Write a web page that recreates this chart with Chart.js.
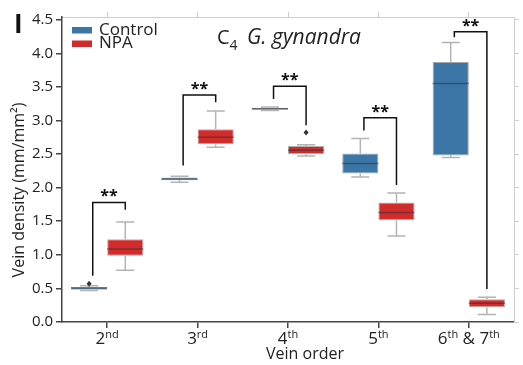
<!DOCTYPE html>
<html>
<head>
<meta charset="utf-8">
<script src="https://cdn.jsdelivr.net/npm/chart.js@4.4.0/dist/chart.umd.min.js"></script>
<style>
  html, body { margin: 0; padding: 0; background: #fff; }
</style>
</head>
<body>
<canvas id="veinChart" width="523" height="365"></canvas>
<script>
// box plot values (mm/mm2)
var veinOrders = ['2nd', '3rd', '4th', '5th', '6th & 7th'];

var controlMin = [0.47, 2.08, 3.15, 2.16, 2.45];
var controlQ1  = [0.48, 2.11, 3.16, 2.21, 2.48];
var controlMed = [0.505, 2.13, 3.175, 2.36, 3.55];
var controlQ3  = [0.52, 2.15, 3.19, 2.51, 3.87];
var controlMax = [0.54, 2.17, 3.20, 2.73, 4.16];
var controlOut = [[0.57], [], [], [], []];

var npaMin = [0.77, 2.60, 2.47, 1.28, 0.11];
var npaQ1  = [0.985, 2.645, 2.50, 1.515, 0.22];
var npaMed = [1.085, 2.75, 2.555, 1.63, 0.28];
var npaQ3  = [1.23, 2.87, 2.62, 1.78, 0.34];
var npaMax = [1.49, 3.14, 2.64, 1.92, 0.37];
var npaOut = [[], [], [2.82], [], []];

// significance brackets: top of bracket, bottom of left leg, bottom of right leg
var sigTop   = [1.78, 3.38, 3.51, 3.04, 4.32];
var sigLeft  = [0.69, 2.33, 3.32, 2.85, 4.24];
var sigRight = [1.67, 3.27, 2.93, 2.04, 0.49];
var sigText  = ['**', '**', '**', '**', '**'];

var yTicks = [0, 0.5, 1, 1.5, 2, 2.5, 3, 3.5, 4, 4.5];

var FONT = '"Open Sans", "DejaVu Sans", sans-serif';
var boxStats = [
  { min: controlMin, med: controlMed, max: controlMax, out: controlOut },
  { min: npaMin, med: npaMed, max: npaMax, out: npaOut }
];

var overlay = {
  id: 'overlay',
  afterDatasetsDraw: function(chart) {
    var ctx = chart.ctx;
    var y = chart.scales.y;
    ctx.save();
    boxStats.forEach(function(s, di) {
      var meta = chart.getDatasetMeta(di);
      meta.data.forEach(function(bar, i) {
        var cx = bar.x, half = bar.width / 2;
        var raw = chart.data.datasets[di].data[i];
        ctx.strokeStyle = '#b4b4b4';
        ctx.lineWidth = 1.5;
        ctx.beginPath();
        ctx.moveTo(cx, y.getPixelForValue(raw[1]));
        ctx.lineTo(cx, y.getPixelForValue(s.max[i]));
        ctx.moveTo(cx - half / 2, y.getPixelForValue(s.max[i]));
        ctx.lineTo(cx + half / 2, y.getPixelForValue(s.max[i]));
        ctx.moveTo(cx, y.getPixelForValue(raw[0]));
        ctx.lineTo(cx, y.getPixelForValue(s.min[i]));
        ctx.moveTo(cx - half / 2, y.getPixelForValue(s.min[i]));
        ctx.lineTo(cx + half / 2, y.getPixelForValue(s.min[i]));
        ctx.stroke();
        // median
        ctx.strokeStyle = 'rgba(50,50,60,0.55)';
        ctx.lineWidth = 1.5;
        ctx.beginPath();
        ctx.moveTo(cx - half, y.getPixelForValue(s.med[i]));
        ctx.lineTo(cx + half, y.getPixelForValue(s.med[i]));
        ctx.stroke();
        // outliers
        ctx.fillStyle = '#333';
        s.out[i].forEach(function(v) {
          var py = y.getPixelForValue(v);
          ctx.beginPath();
          ctx.moveTo(cx, py - 3);
          ctx.lineTo(cx + 2.5, py);
          ctx.lineTo(cx, py + 3);
          ctx.lineTo(cx - 2.5, py);
          ctx.closePath();
          ctx.fill();
        });
      });
    });
    ctx.restore();
  },
  afterDraw: function(chart) {
    var ctx = chart.ctx;
    var x = chart.scales.x, y = chart.scales.y;
    ctx.save();

    // brackets
    ctx.strokeStyle = '#111';
    ctx.lineWidth = 1.5;
    ctx.fillStyle = '#111';
    ctx.font = 'bold 16px ' + FONT;
    ctx.textAlign = 'center';
    ctx.textBaseline = 'alphabetic';
    veinOrders.forEach(function(c, i) {
      var xl = x.getPixelForValue(i - 0.16), xr = x.getPixelForValue(i + 0.2);
      var yt = y.getPixelForValue(sigTop[i]);
      ctx.beginPath();
      ctx.moveTo(xl, y.getPixelForValue(sigLeft[i]));
      ctx.lineTo(xl, yt);
      ctx.lineTo(xr, yt);
      ctx.lineTo(xr, y.getPixelForValue(sigRight[i]));
      ctx.stroke();
      ctx.fillText(sigText[i], (xl + xr) / 2, yt - 1);
    });

    // x tick labels with superscripts
    ctx.fillStyle = '#222';
    ctx.textAlign = 'left';
    veinOrders.forEach(function(lab, i) {
      var parts = lab.split(/(st|nd|rd|th)/).filter(Boolean);
      var widths = parts.map(function(p) {
        ctx.font = (/^(st|nd|rd|th)$/.test(p) ? '11px ' : '17px ') + FONT;
        return ctx.measureText(p).width;
      });
      var total = widths.reduce(function(a, b) { return a + b; }, 0);
      var px = x.getPixelForValue(i) - total / 2;
      parts.forEach(function(p, k) {
        var sup = /^(st|nd|rd|th)$/.test(p);
        ctx.font = (sup ? '11px ' : '17px ') + FONT;
        ctx.fillText(p, px, sup ? 338 : 344);
        px += widths[k];
      });
    });

    // axis titles
    ctx.font = '16px ' + FONT;
    ctx.textAlign = 'center';
    ctx.fillText('Vein order', 305, 359);
    ctx.save();
    ctx.translate(24, 190);
    ctx.rotate(-Math.PI / 2);
    ctx.fillText('Vein density (mm/mm²)', 0, 0);
    ctx.restore();

    // title: C4 G. gynandra
    ctx.textAlign = 'left';
    ctx.font = '20px ' + FONT;
    ctx.fillText('C', 217, 43.5);
    var cw = ctx.measureText('C').width;
    ctx.font = '14px ' + FONT;
    ctx.fillText('4', 217 + cw, 49.5);
    ctx.font = 'italic 21px ' + FONT;
    ctx.fillText('G. gynandra', 247, 43.5);

    // legend
    chart.data.datasets.forEach(function(ds, k) {
      ctx.fillStyle = ds.backgroundColor;
      ctx.fillRect(72, 27 + k * 13.5, 20, 6.5);
      ctx.fillStyle = '#222';
      ctx.font = '17px ' + FONT;
      ctx.fillText(ds.label, 99, 34.5 + k * 13.5);
    });

    // panel letter
    ctx.font = 'bold 26px ' + FONT;
    ctx.fillStyle = '#111';
    ctx.fillText('I', 14, 33);
    ctx.restore();
  }
};

var ctx = document.getElementById('veinChart').getContext('2d');
var myChart = new Chart(ctx, {
  type: 'bar',
  data: {
    labels: veinOrders,
    datasets: [{
      label: 'Control',
      data: controlQ1.map(function(q, i) { return [q, controlQ3[i]]; }),
      backgroundColor: '#3b76a6',
      borderColor: 'rgba(50,60,70,0.45)',
      borderWidth: 1,
      borderSkipped: false,
      categoryPercentage: 0.8,
      barPercentage: 1.0
    }, {
      label: 'NPA',
      data: npaQ1.map(function(q, i) { return [q, npaQ3[i]]; }),
      backgroundColor: '#d12b2b',
      borderColor: 'rgba(70,50,50,0.4)',
      borderWidth: 1,
      borderSkipped: false,
      categoryPercentage: 0.8,
      barPercentage: 1.0
    }]
  },
  options: {
    responsive: false,
    animation: false,
    devicePixelRatio: 1,
    layout: { padding: 0 },
    plugins: {
      legend: { display: false },
      tooltip: { enabled: false }
    },
    scales: {
      x: {
        position: 'bottom',
        offset: true,
        grid: { offset: false, drawOnChartArea: false, tickLength: 6, color: '#444', lineWidth: 1.5 },
        border: { color: '#444', width: 1.5 },
        ticks: { display: false },
        afterFit: function(s) { s.height = 43; }
      },
      x2: {
        type: 'category',
        labels: veinOrders,
        position: 'top',
        offset: true,
        grid: { offset: false, drawOnChartArea: false, tickLength: 5, color: '#cfcfcf' },
        border: { color: '#cfcfcf' },
        ticks: { display: false },
        afterFit: function(s) { s.height = 17; }
      },
      y: {
        min: 0,
        max: 4.54,
        afterBuildTicks: function(s) { s.ticks = yTicks.map(function(v) { return { value: v }; }); },
        ticks: {
          callback: function(v) { return Number(v).toFixed(1); },
          font: { family: FONT, size: 15 },
          color: '#222',
          padding: 3
        },
        grid: { drawOnChartArea: false, tickLength: 6, color: '#444', lineWidth: 1.5 },
        border: { color: '#444', width: 1.5 },
        afterFit: function(s) { s.width = 62; }
      },
      y2: {
        position: 'right',
        min: 0,
        max: 4.54,
        afterBuildTicks: function(s) { s.ticks = yTicks.map(function(v) { return { value: v }; }); },
        ticks: { display: false },
        grid: { drawOnChartArea: false, tickLength: 5, color: '#cfcfcf' },
        border: { color: '#cfcfcf' },
        afterFit: function(s) { s.width = 9; }
      }
    }
  },
  plugins: [overlay]
});
</script>
</body>
</html>
